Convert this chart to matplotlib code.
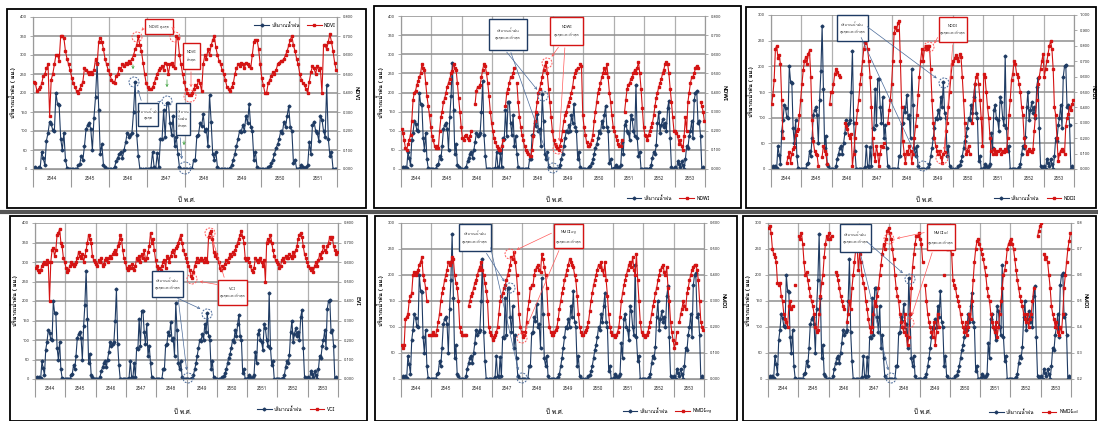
import numpy as np
import matplotlib
matplotlib.use("Agg")
import matplotlib.pyplot as plt
from matplotlib import font_manager
from matplotlib.ft2font import FT2Font
from matplotlib.patches import Rectangle, Ellipse, FancyArrowPatch
from matplotlib.lines import Line2D

W, H = 1098, 421


def thai_family():
    # first installed family that carries Thai glyphs
    for f in font_manager.fontManager.ttflist:
        try:
            if 0x0E01 in FT2Font(f.fname).get_charmap():
                return f.name
        except Exception:
            pass
    return None


fam = thai_family()
families = ['DejaVu Sans']
if fam:
    families = [fam, 'DejaVu Sans']
plt.rcParams['font.family'] = families

# ---- data (24 values per year, 2544-2553) ----
years = ['2544', '2545', '2546', '2547', '2548', '2549', '2550', '2551', '2552', '2553']

rain = [
    2, 5, 0, 5, 2, 45, 28, 10, 75, 95, 125, 118, 102, 100, 200, 170, 168, 80, 50, 95, 25, 2, 0, 0,
    0, 0, 0, 0, 10, 12, 35, 25, 60, 105, 115, 120, 105, 50, 135, 190, 278, 155, 40, 65, 10, 5, 0, 0,
    0, 0, 0, 5, 20, 30, 40, 45, 30, 50, 70, 95, 85, 90, 95, 150, 230, 90, 35, 0, 0, 0, 0, 0,
    0, 0, 3, 45, 5, 0, 42, 5, 80, 78, 155, 85, 175, 175, 120, 90, 140, 60, 85, 40, 5, 0, 0, 0,
    0, 0, 0, 0, 0, 25, 25, 88, 90, 120, 112, 145, 100, 105, 60, 195, 125, 40, 25, 45, 5, 0, 0, 0,
    0, 0, 0, 0, 3, 10, 25, 40, 60, 80, 100, 98, 115, 100, 140, 120, 170, 110, 100, 25, 45, 5, 0, 0,
    0, 0, 0, 0, 5, 8, 15, 25, 40, 55, 65, 80, 100, 95, 125, 110, 140, 165, 110, 100, 15, 25, 0, 0,
    2, 10, 5, 0, 5, 10, 70, 40, 115, 125, 100, 95, 75, 140, 130, 100, 85, 220, 80, 35, 45, 0, 0, 0,
    0, 0, 0, 0, 3, 10, 30, 45, 40, 62, 120, 150, 95, 115, 130, 110, 120, 100, 160, 178, 80, 5, 0, 0,
    5, 0, 20, 12, 5, 20, 10, 0, 25, 60, 55, 85, 100, 125, 80, 180, 200, 203, 120, 125, 85, 0, 5, 0,
]

ndvi = [
    0.46, 0.45, 0.41, 0.42, 0.43, 0.45, 0.49, 0.50, 0.53, 0.55, 0.28, 0.47, 0.50, 0.55, 0.60, 0.60, 0.57, 0.70, 0.70, 0.69, 0.62, 0.58, 0.55, 0.52,
    0.48, 0.45, 0.43, 0.41, 0.40, 0.42, 0.44, 0.46, 0.53, 0.52, 0.51, 0.50, 0.51, 0.50, 0.52, 0.58, 0.55, 0.67, 0.69, 0.67, 0.63, 0.58, 0.55, 0.52,
    0.50, 0.47, 0.46, 0.45, 0.49, 0.50, 0.53, 0.52, 0.55, 0.54, 0.56, 0.55, 0.57, 0.56, 0.58, 0.60, 0.63, 0.65, 0.70, 0.65, 0.62, 0.56, 0.50, 0.45,
    0.43, 0.42, 0.42, 0.43, 0.45, 0.48, 0.50, 0.52, 0.53, 0.54, 0.52, 0.56, 0.55, 0.50, 0.55, 0.56, 0.54, 0.53, 0.70, 0.69, 0.60, 0.55, 0.50, 0.46,
    0.42, 0.40, 0.39, 0.39, 0.40, 0.42, 0.44, 0.43, 0.47, 0.45, 0.41, 0.55, 0.60, 0.58, 0.63, 0.60, 0.65, 0.68, 0.70, 0.64, 0.60, 0.57, 0.55, 0.52,
    0.50, 0.47, 0.43, 0.42, 0.41, 0.43, 0.45, 0.50, 0.53, 0.55, 0.54, 0.56, 0.55, 0.53, 0.56, 0.55, 0.54, 0.53, 0.60, 0.67, 0.68, 0.68, 0.63, 0.55,
    0.48, 0.44, 0.40, 0.40, 0.45, 0.47, 0.49, 0.51, 0.50, 0.52, 0.55, 0.56, 0.57, 0.57, 0.58, 0.60, 0.62, 0.65, 0.68, 0.70, 0.65, 0.62, 0.58, 0.55,
    0.50, 0.47, 0.45, 0.44, 0.42, 0.40, 0.46, 0.51, 0.54, 0.53, 0.50, 0.54, 0.52, 0.53, 0.40, 0.65, 0.65, 0.63, 0.67, 0.71, 0.67, 0.62, 0.56, 0.52,
]

ndwi = [
    0.21, 0.19, 0.15, 0.11, 0.10, 0.13, 0.15, 0.18, 0.25, 0.36, 0.40, 0.41, 0.44, 0.46, 0.48, 0.50, 0.55, 0.53, 0.52, 0.45, 0.38, 0.33, 0.28, 0.22,
    0.17, 0.15, 0.12, 0.11, 0.12, 0.11, 0.20, 0.27, 0.30, 0.35, 0.37, 0.40, 0.43, 0.45, 0.47, 0.50, 0.51, 0.55, 0.53, 0.52, 0.45, 0.37, 0.30, 0.22,
    0.16, 0.15, 0.17, 0.18, 0.16, 0.15, 0.17, 0.20, None, None, 0.34, 0.41, 0.43, 0.43, 0.44, 0.48, 0.52, 0.55, 0.54, 0.50, 0.45, 0.38, 0.30, 0.24,
    0.20, 0.16, 0.14, 0.12, 0.11, 0.10, 0.10, 0.12, 0.15, None, 0.33, 0.40, 0.42, 0.45, 0.48, 0.48, 0.50, 0.53, None, 0.45, 0.35, 0.27, 0.22, 0.18,
    0.15, 0.12, 0.10, 0.09, 0.08, 0.07, 0.07, 0.10, 0.17, 0.25, 0.30, 0.35, 0.40, 0.42, 0.45, 0.48, 0.52, 0.54, 0.56, 0.50, 0.42, 0.35, 0.27, 0.20,
    0.15, 0.13, 0.12, 0.11, 0.10, 0.12, 0.15, 0.20, 0.25, 0.28, 0.30, 0.33, 0.35, 0.37, 0.40, 0.43, 0.48, 0.50, 0.52, 0.53, None, 0.55, 0.54, 0.28,
    0.22, 0.18, 0.14, 0.12, 0.12, 0.13, 0.15, 0.18, 0.25, 0.30, 0.35, 0.40, 0.42, 0.45, 0.48, 0.50, 0.53, 0.50, 0.55, 0.48, 0.40, 0.35, 0.28, 0.22,
    0.20, 0.17, 0.15, 0.13, 0.12, 0.12, 0.15, None, 0.30, 0.36, 0.42, 0.44, 0.45, 0.47, 0.48, 0.50, 0.52, 0.50, 0.53, 0.56, 0.50, 0.42, 0.32, 0.22,
    0.18, 0.17, 0.15, 0.18, 0.20, 0.22, 0.24, 0.28, 0.33, 0.37, 0.40, 0.43, 0.45, 0.47, 0.50, 0.52, 0.55, 0.56, 0.55, 0.50, 0.42, 0.35, 0.27, 0.20,
    0.20, 0.19, 0.17, 0.13, 0.15, 0.12, 0.10, 0.17, 0.27, 0.20, 0.35, 0.40, 0.45, 0.48, 0.48, 0.50, 0.53, 0.54, 0.53, None, 0.35, 0.33, 0.30, 0.25,
]

nddi = [
    0.42, 0.48, 0.58, 0.78, 0.80, 0.72, 0.74, 0.68, 0.45, 0.20, None, None, 0.04, 0.08, 0.11, 0.04, 0.10, 0.13, 0.14, 0.22, 0.25, 0.26, 0.35, 0.45,
    0.55, 0.64, 0.70, 0.73, 0.68, 0.75, 0.77, 0.60, 0.32, 0.18, 0.12, 0.10, 0.09, 0.02, None, None, 0.08, 0.15, 0.12, 0.10, 0.03, None, 0.42, 0.50,
    0.50, 0.55, 0.62, 0.65, 0.63, 0.61, 0.60, None, None, None, 0.30, 0.28, 0.26, 0.22, 0.20, 0.23, 0.02, 0.10, 0.20, 0.30, 0.38, 0.45, 0.55, 0.62,
    0.70, 0.78, 0.82, 0.85, 0.78, 0.70, 0.60, 0.40, 0.20, 0.10, 0.05, 0.15, 0.10, 0.02, 0.10, 0.15, 0.14, 0.17, None, None, 0.30, 0.38, 0.45, 0.55,
    0.70, 0.88, 0.92, 0.90, 0.95, 0.96, 0.70, 0.40, 0.18, 0.10, 0.04, 0.12, 0.10, 0.15, 0.12, 0.04, 0.10, 0.20, 0.28, 0.35, 0.48, 0.60, 0.70, 0.78,
    0.70, 0.78, 0.80, 0.78, 0.80, 0.80, 0.65, 0.45, 0.30, 0.20, 0.15, 0.12, 0.10, 0.12, 0.08, 0.04, 0.10, 0.11, 0.25, 0.30, 0.40, 0.50, 0.60, 0.68,
    0.70, 0.72, 0.74, 0.72, 0.70, 0.75, 0.73, 0.60, 0.45, 0.30, 0.10, 0.12, 0.15, 0.10, None, 0.30, 0.45, 0.55, 0.60, 0.62, 0.55, 0.45, 0.33, 0.15,
    0.62, 0.60, 0.50, 0.40, 0.33, 0.20, 0.12, 0.10, 0.13, 0.12, 0.10, 0.12, None, 0.13, 0.10, 0.12, 0.11, 0.13, 0.12, 0.20, 0.35, 0.45, 0.58, 0.62,
    0.70, 0.68, 0.62, 0.60, 0.55, 0.50, 0.40, 0.35, 0.20, 0.15, 0.10, 0.12, 0.13, 0.12, 0.11, 0.13, 0.25, 0.35, 0.45, 0.55, 0.60, 0.65, 0.70, 0.75,
    0.60, 0.65, 0.70, 0.75, 0.80, 0.83, 0.78, 0.65, 0.40, 0.35, 0.20, 0.05, 0.10, 0.12, 0.13, 0.12, 0.10, 0.28, 0.33, 0.36, 0.40, 0.38, 0.42, 0.45,
]

vci = [
    0.57, 0.58, 0.56, 0.55, 0.56, 0.58, 0.59, 0.60, 0.59, 0.61, 0.60, 0.40, 0.60, 0.66, 0.67, 0.63, 0.66, 0.74, 0.75, 0.77, 0.70, 0.68, 0.62, 0.60,
    0.57, 0.55, 0.56, 0.58, 0.60, 0.59, 0.58, 0.59, 0.60, 0.62, 0.65, 0.63, 0.62, 0.64, 0.60, 0.63, 0.66, 0.70, 0.74, 0.72, 0.70, 0.63, 0.61, 0.60,
    0.59, 0.58, 0.61, 0.60, 0.62, 0.58, 0.59, 0.61, 0.62, 0.60, 0.62, 0.63, 0.62, 0.64, 0.65, 0.66, 0.64, 0.68, 0.70, 0.74, 0.72, 0.66, 0.62, 0.60,
    0.57, 0.56, 0.58, 0.57, 0.59, 0.57, 0.56, 0.58, 0.62, 0.61, 0.63, 0.60, 0.64, 0.62, 0.66, 0.61, 0.62, 0.65, 0.68, 0.75, 0.70, 0.72, 0.66, 0.61,
    0.58, 0.55, 0.57, 0.56, 0.58, 0.60, 0.61, 0.57, 0.63, 0.62, 0.60, 0.63, 0.65, 0.66, 0.63, 0.67, 0.68, 0.70, 0.72, 0.74, 0.70, 0.66, 0.64, 0.62,
    0.60, 0.58, 0.56, 0.53, 0.52, 0.55, 0.58, 0.60, 0.62, 0.60, 0.61, 0.62, 0.61, 0.60, 0.62, 0.61, 0.60, 0.73, 0.75, 0.76, 0.72, 0.65, 0.63, 0.64,
    0.62, 0.60, 0.57, 0.56, 0.58, 0.57, 0.59, 0.61, 0.60, 0.62, 0.64, 0.63, 0.65, 0.64, 0.66, 0.68, 0.70, 0.72, 0.74, 0.76, 0.73, 0.70, 0.62, 0.61,
    0.62, 0.60, 0.58, 0.56, 0.55, 0.57, 0.62, 0.61, 0.60, 0.61, 0.62, 0.60, 0.58, 0.61, 0.50, 0.70, 0.72, 0.71, 0.74, 0.70, 0.66, 0.63, 0.61, 0.60,
    0.59, 0.57, 0.58, 0.61, 0.62, 0.60, 0.63, 0.62, 0.62, 0.64, 0.63, 0.62, 0.65, 0.63, 0.66, 0.68, 0.72, 0.74, 0.75, 0.73, 0.68, 0.64, 0.62, 0.60,
    0.58, 0.57, 0.56, 0.57, 0.55, 0.58, 0.60, 0.58, 0.61, 0.64, 0.62, 0.65, 0.68, 0.66, 0.65, 0.68, 0.70, 0.73, 0.72, 0.73, 0.68, 0.66, 0.64, 0.65,
]

nmdi_veg = [
    0.13, 0.12, 0.13, 0.23, 0.24, 0.25, 0.30, 0.32, 0.33, 0.40, 0.41, 0.40, 0.41, 0.42, 0.44, 0.45, 0.47, 0.40, 0.38, 0.35, 0.30, None, 0.17, 0.17,
    0.17, 0.18, 0.17, 0.17, 0.19, 0.22, 0.25, 0.30, 0.33, 0.35, 0.38, 0.40, 0.42, 0.45, 0.44, 0.45, 0.47, 0.46, 0.40, 0.37, 0.35, 0.30, 0.20, 0.18,
    0.17, 0.17, 0.17, 0.17, None, 0.28, 0.30, 0.32, 0.33, 0.35, 0.37, 0.38, 0.40, 0.42, 0.43, 0.45, 0.42, 0.40, 0.37, 0.34, 0.30, 0.20, 0.18, 0.17,
    0.15, 0.16, 0.17, 0.18, 0.20, 0.25, 0.30, 0.32, 0.33, 0.35, 0.36, 0.38, 0.40, 0.42, 0.44, 0.47, 0.46, 0.49, 0.45, 0.40, 0.33, 0.25, 0.20, 0.18,
    0.16, 0.17, 0.18, 0.22, 0.27, 0.30, 0.35, 0.36, 0.36, 0.40, 0.42, 0.43, 0.44, 0.42, 0.41, 0.48, 0.46, 0.43, 0.40, 0.35, 0.25, 0.20, 0.18, 0.17,
    0.17, 0.18, 0.19, 0.20, 0.23, 0.27, 0.30, 0.33, 0.35, 0.38, 0.40, 0.42, 0.44, 0.46, 0.45, 0.44, 0.43, 0.40, 0.38, 0.32, 0.25, 0.20, 0.18, 0.17,
    0.17, 0.18, 0.19, 0.20, 0.22, 0.26, 0.30, 0.33, 0.36, 0.38, 0.40, 0.42, 0.44, 0.43, 0.45, 0.42, 0.40, 0.45, 0.38, 0.32, 0.25, 0.20, 0.18, 0.17,
    0.17, 0.16, 0.17, 0.18, 0.20, 0.24, 0.30, 0.33, 0.36, 0.38, 0.40, 0.42, 0.44, 0.45, 0.43, 0.47, 0.42, 0.40, 0.48, 0.38, 0.30, 0.22, 0.18, 0.17,
    0.17, 0.16, 0.17, 0.18, 0.20, 0.22, 0.25, 0.28, 0.30, 0.33, 0.35, 0.38, 0.40, 0.42, 0.43, 0.44, 0.41, 0.40, 0.43, 0.35, 0.30, 0.22, 0.18, 0.15,
    0.12, 0.14, 0.18, None, 0.22, 0.25, 0.27, 0.30, 0.28, 0.27, 0.33, 0.35, 0.38, 0.40, 0.42, 0.43, 0.44, 0.44, 0.42, 0.38, 0.30, 0.22, 0.20, 0.19,
]

nmdi_soil = [
    0.78, 0.79, 0.76, 0.70, 0.68, 0.67, 0.65, 0.57, 0.56, 0.57, 0.52, 0.50, 0.45, 0.43, 0.42, 0.40, 0.48, 0.50, 0.47, 0.48, None, 0.56, None, None,
    0.75, 0.74, 0.76, 0.72, 0.65, 0.60, 0.61, 0.58, 0.55, 0.52, 0.50, 0.48, 0.45, 0.40, 0.38, 0.39, 0.45, 0.52, 0.57, 0.60, 0.67, 0.72, 0.75, 0.74,
    0.76, 0.74, 0.75, None, None, 0.61, 0.60, 0.58, 0.55, 0.52, 0.50, 0.48, 0.47, None, 0.42, 0.45, 0.50, 0.47, 0.55, 0.60, 0.65, 0.70, 0.72, 0.62,
    0.68, 0.65, 0.60, 0.57, 0.55, 0.50, 0.47, 0.43, 0.40, 0.38, 0.40, 0.45, 0.50, 0.48, 0.52, 0.55, 0.60, 0.64, 0.68, 0.72, 0.70, 0.74, 0.77, 0.78,
    0.76, 0.74, 0.70, 0.66, 0.60, 0.55, 0.52, 0.50, 0.45, 0.42, 0.40, 0.38, 0.45, 0.37, 0.33, 0.36, 0.45, 0.55, 0.63, 0.68, 0.72, 0.75, 0.75, 0.76,
    0.74, 0.72, 0.65, None, 0.56, 0.50, 0.45, 0.42, 0.40, 0.38, 0.36, 0.42, 0.33, 0.38, 0.45, 0.40, None, None, None, 0.60, None, 0.70, 0.70, 0.72,
    0.70, 0.68, 0.58, 0.56, 0.55, 0.52, 0.50, 0.48, 0.45, 0.42, 0.40, 0.38, 0.42, 0.37, 0.40, 0.45, 0.43, 0.50, 0.58, 0.65, 0.70, 0.73, 0.74, 0.72,
    0.70, 0.68, 0.66, 0.63, 0.60, 0.55, 0.52, 0.50, 0.45, 0.42, 0.40, 0.38, 0.42, 0.36, 0.40, 0.45, 0.50, 0.55, 0.60, 0.62, 0.65, 0.70, 0.72, 0.73,
    0.74, 0.72, 0.70, 0.66, 0.62, 0.58, 0.55, 0.52, 0.50, 0.48, 0.45, 0.43, 0.42, 0.45, 0.40, 0.43, 0.45, 0.50, 0.55, None, None, 0.75, 0.77, 0.79,
    0.80, None, 0.68, 0.66, 0.67, 0.65, 0.60, 0.55, 0.48, 0.45, 0.43, 0.40, 0.42, 0.38, 0.37, 0.40, 0.38, 0.45, 0.55, 0.60, 0.65, 0.70, 0.73, 0.76,
]

RAIN_NAME = 'ปริมาณน้ำฝน'
BLUE = '#1f3b63'
RED = '#d41414'
GRID = '#8f8f8f'
PER_YEAR = 24


def px(x, y):
    return x / W, 1 - y / H


def rect(x0, y0, x1, y1):
    return [x0 / W, 1 - y1 / H, (x1 - x0) / W, (y1 - y0) / H]


def panel(fig, box, n_years, values, name, right_label, left_max, right_lo, right_hi, right_fmt,
          legend_xy, xlabel_xy):
    n = n_years * PER_YEAR
    x = np.arange(n) + 0.5
    ax = fig.add_axes(rect(*box))
    ax2 = ax.twinx()

    ax.plot(x, rain[:n], color=BLUE, lw=0.8, marker='D', ms=1.5, label=RAIN_NAME, zorder=3)
    ax2.plot(x, np.array(values, dtype=float), color=RED, lw=0.8, marker='s', ms=1.5, label=name, zorder=3)

    ax.set_xlim(0, n)
    ax.set_ylim(0, left_max)
    ax.set_yticks(np.arange(0, left_max + 1, 50))
    ax2.set_ylim(right_lo, right_hi)
    ax2.set_yticks(np.round(np.arange(right_lo, right_hi + 1e-6, 0.1), 2))
    ax2.yaxis.set_major_formatter(plt.FormatStrFormatter(right_fmt))

    ax.yaxis.grid(True, color=GRID, lw=1.1)
    ax.set_xticks(np.arange(0, n + 1, PER_YEAR))
    ax.xaxis.grid(True, color='#b0b0b0', lw=0.9)
    ax.set_xticklabels([])
    ax.tick_params(axis='x', which='major', length=13, color='#9a9a9a', width=0.8, direction='out')
    ax.set_xticks(np.arange(PER_YEAR / 2, n, PER_YEAR), minor=True)
    ax.set_xticklabels(years[:n_years], minor=True, fontsize=3.3, color='#333333')
    ax.tick_params(axis='x', which='minor', length=0, pad=5)
    ax.set_axisbelow(True)

    for a in (ax, ax2):
        a.tick_params(axis='y', labelsize=3.0, length=2, width=0.5, color='#8a8a8a', labelcolor='#333333', pad=2)
        a.spines['top'].set_visible(False)
        for s in ('left', 'right', 'bottom'):
            a.spines[s].set_color('#9a9a9a')
            a.spines[s].set_linewidth(0.8)

    ax.set_ylabel(RAIN_NAME + ' ( มม.)', fontsize=4.2, fontweight='bold', labelpad=3)
    ax2.set_ylabel(right_label, fontsize=4.2, fontweight='bold', rotation=270, labelpad=4)

    fig.text(*px(*xlabel_xy), 'ปี พ.ศ.', fontsize=4.5, ha='center', va='center')
    h1, l1 = ax.get_legend_handles_labels()
    h2, l2 = ax2.get_legend_handles_labels()
    fig.legend(h1 + h2, l1 + l2, loc='center', bbox_to_anchor=px(*legend_xy), ncol=2, frameon=False,
               fontsize=3.5, handlelength=3, columnspacing=1.5, handletextpad=0.5)
    return ax, ax2


def frame(fig, x0, y0, x1, y1):
    fig.add_artist(Rectangle(px(x0, y1), (x1 - x0) / W, (y1 - y0) / H, transform=fig.transFigure,
                             fill=False, edgecolor='black', lw=1.3))


def note(fig, x0, y0, x1, y1, text, color):
    fig.add_artist(Rectangle(px(x0, y1), (x1 - x0) / W, (y1 - y0) / H, transform=fig.transFigure,
                             facecolor='white', edgecolor=color, lw=1.0, zorder=4))
    fig.text(*px((x0 + x1) / 2, (y0 + y1) / 2), text, ha='center', va='center', fontsize=2.8,
             color='#333333', linespacing=1.7, zorder=5)


def ring(fig, x, y, r, color):
    fig.add_artist(Ellipse(px(x, y), 2 * r / W, 2 * r / H, transform=fig.transFigure, fill=False,
                           edgecolor=color, lw=0.7, ls=(0, (2, 1.2)), zorder=4))


def arrow(fig, a, b, color):
    fig.add_artist(FancyArrowPatch(px(*a), px(*b), transform=fig.transFigure, arrowstyle='->',
                                   mutation_scale=4, color=color, lw=0.5, zorder=4))


fig = plt.figure(figsize=(W / 100, H / 100), dpi=100)
LB = '#4a6a99'
LR = '#ff5a5a'

# frames
frame(fig, 7, 9, 366, 208)
frame(fig, 374, 6, 741, 208)
frame(fig, 746, 7, 1096, 208)
frame(fig, 10, 216, 367, 421)
frame(fig, 375, 216, 737, 421)
frame(fig, 743, 216, 1096, 421)
fig.add_artist(Line2D([0, 1], [1 - 212 / H] * 2, transform=fig.transFigure, color='#555555', lw=3))

# panel 1: NDVI
panel(fig, (33, 17, 337, 169), 8, ndvi, 'NDVI', 'NDVI', 400, 0.0, 0.8, '%.3f', (295, 25), (187, 200))
ring(fig, 137, 37, 5, LR)
ring(fig, 175, 37, 5, LR)
ring(fig, 190, 96, 6, LR)
ring(fig, 134, 82, 5, LB)
ring(fig, 167, 101, 5, LB)
ring(fig, 185, 168, 6, LB)
note(fig, 145, 19, 173, 34, 'NDVI สูงสุด', RED)
note(fig, 183, 43, 200, 69, 'NDVI\nต่ำสุด', RED)
note(fig, 138, 103, 158, 126, 'ปริมาณน้ำฝน\nสูงสุด', BLUE)
note(fig, 176, 103, 190, 135, 'ปริมาณ\nน้ำฝน\nต่ำสุด', BLUE)
arrow(fig, (145, 26), (140, 33), LR)
arrow(fig, (173, 26), (173, 33), LR)
arrow(fig, (191, 69), (191, 90), LR)
arrow(fig, (142, 103), (137, 87), LB)
arrow(fig, (158, 103), (163, 99), LB)
arrow(fig, (180, 135), (182, 162), LB)
for gx, gy0, gy1 in [(133, 62, 72), (167, 77, 90), (184, 138, 148)]:
    arrow(fig, (gx, gy0), (gx, gy1), '#3aa03a')

# panel 2: NDWI
panel(fig, (401, 16, 705, 169), 10, ndwi, 'NDWI', 'NDWI', 400, 0.0, 0.8, '%.3f', (668, 198), (555, 200))
ring(fig, 547, 63, 5, LR)
ring(fig, 558, 149, 5, LR)
ring(fig, 543, 96, 5, LB)
ring(fig, 553, 168, 5, LB)
note(fig, 489, 19, 527, 50, 'ปริมาณน้ำฝน\nสูงสุดและต่ำสุด', BLUE)
note(fig, 550, 17, 583, 45, 'NDWI\nสูงสุดและต่ำสุด', RED)
arrow(fig, (505, 50), (539, 92), LB)
arrow(fig, (510, 50), (550, 163), LB)
arrow(fig, (560, 45), (550, 59), LR)
arrow(fig, (565, 45), (559, 144), LR)

# panel 3: NDDI
panel(fig, (771, 15, 1074, 169), 10, nddi, 'NDDI', 'NDDI', 300, 0.0, 1.0, '%.3f', (1035, 198), (925, 200))
ring(fig, 929, 47, 5, LR)
ring(fig, 942, 158, 6, LR)
ring(fig, 944, 83, 5, LB)
ring(fig, 923, 166, 5, LB)
note(fig, 837, 15, 868, 41, 'ปริมาณน้ำฝน\nสูงสุดและต่ำสุด', BLUE)
note(fig, 939, 17, 967, 42, 'NDDI\nสูงสุดและต่ำสุด', RED)
arrow(fig, (865, 25), (939, 80), LB)
arrow(fig, (860, 35), (919, 162), LB)
arrow(fig, (939, 35), (933, 46), LR)
arrow(fig, (953, 42), (944, 153), LR)

# panel 4: VCI
panel(fig, (35, 223, 338, 379), 10, vci, 'VCI', 'EVI', 400, 0.0, 0.8, '%.3f', (296, 409), (183, 412))
ring(fig, 210, 233, 5, LR)
ring(fig, 192, 279, 5, LR)
ring(fig, 207, 314, 5, LB)
ring(fig, 188, 378, 5, LB)
note(fig, 152, 271, 183, 297, 'ปริมาณน้ำฝน\nสูงสุดและต่ำสุด', BLUE)
note(fig, 218, 280, 247, 305, 'VCI\nสูงสุดและต่ำสุด', RED)
arrow(fig, (175, 297), (203, 310), LB)
arrow(fig, (178, 297), (187, 373), LB)
arrow(fig, (225, 280), (212, 238), LR)
arrow(fig, (220, 285), (197, 281), LR)

# panel 5: NMDI (veg)
panel(fig, (401, 223, 704, 379), 10, nmdi_veg, 'NMDI$_{veg}$', 'NMDI', 300, 0.0, 0.6, '%.3f', (668, 412), (555, 412))
ring(fig, 510, 254, 5, LR)
ring(fig, 522, 338, 5, LR)
ring(fig, 510, 288, 5, LB)
ring(fig, 522, 378, 5, LB)
note(fig, 459, 224, 491, 251, 'ปริมาณน้ำฝน\nสูงสุดและต่ำสุด', BLUE)
note(fig, 554, 224, 583, 248, 'NMDI$_{veg}$\nสูงสุดและต่ำสุด', RED)
arrow(fig, (485, 251), (506, 284), LB)
arrow(fig, (490, 245), (519, 373), LB)
arrow(fig, (554, 232), (514, 251), LR)
arrow(fig, (560, 248), (524, 333), LR)

# panel 6: NMDI (soil)
panel(fig, (768, 223, 1071, 379), 10, nmdi_soil, 'NMDI$_{soil}$', 'NMDI', 300, 0.2, 0.8, '%.1f', (1034, 412), (923, 412))
ring(fig, 889, 239, 5, LR)
ring(fig, 909, 323, 5, LR)
ring(fig, 910, 279, 5, LB)
ring(fig, 891, 378, 5, LB)
note(fig, 840, 224, 871, 252, 'ปริมาณน้ำฝน\nสูงสุดและต่ำสุด', BLUE)
note(fig, 927, 224, 955, 250, 'NMDI$_{soil}$\nสูงสุดและต่ำสุด', RED)
arrow(fig, (865, 240), (905, 275), LB)
arrow(fig, (860, 252), (889, 373), LB)
arrow(fig, (927, 232), (894, 239), LR)
arrow(fig, (933, 250), (911, 318), LR)

fig.savefig('out.png', dpi=100)
